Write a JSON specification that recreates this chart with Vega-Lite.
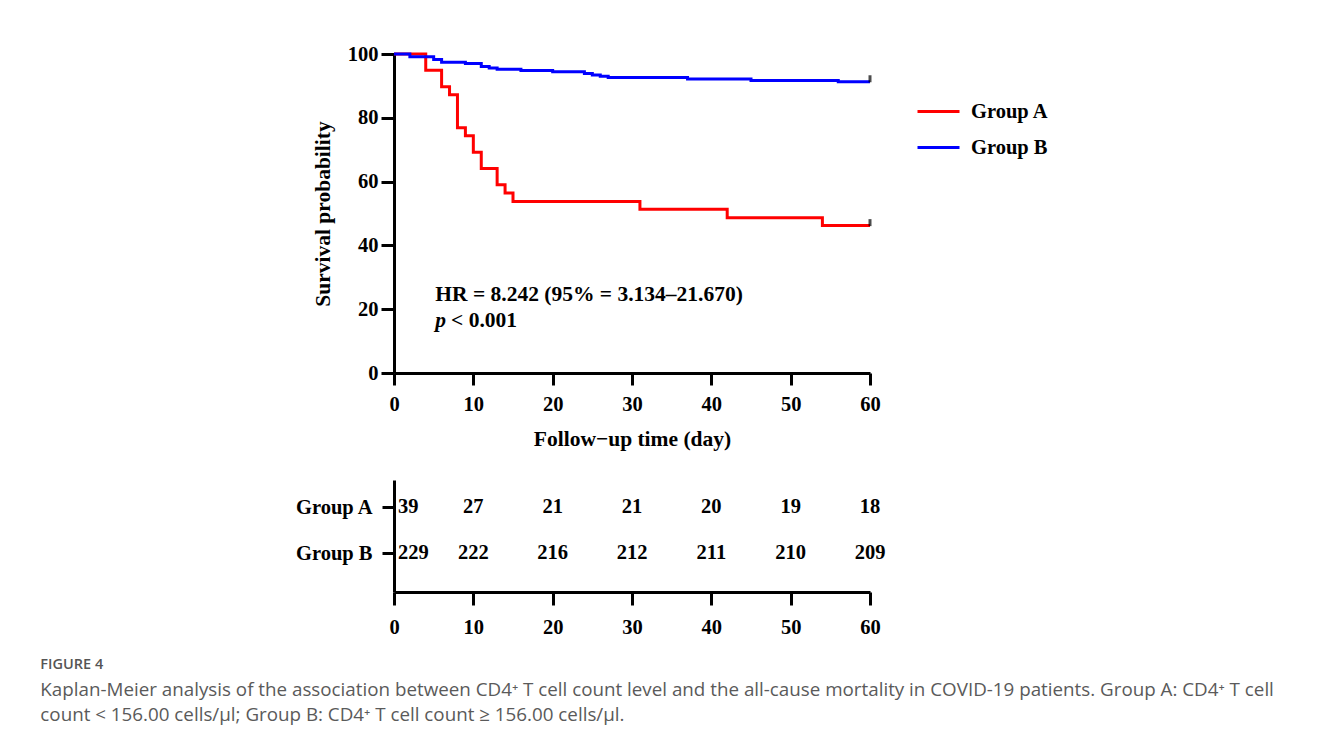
{
  "$schema": "https://vega.github.io/schema/vega-lite/v6.json",
  "background": "white",
  "padding": {"left": 40, "top": 44, "right": 10, "bottom": 10},
  "spacing": 30,
  "datasets": {
    "km": [
      {"group": "Group A", "day": 0, "surv": 100},
      {"group": "Group A", "day": 4, "surv": 94.9},
      {"group": "Group A", "day": 6, "surv": 89.7},
      {"group": "Group A", "day": 7, "surv": 87.2},
      {"group": "Group A", "day": 8, "surv": 76.9},
      {"group": "Group A", "day": 9, "surv": 74.4},
      {"group": "Group A", "day": 10, "surv": 69.2},
      {"group": "Group A", "day": 11, "surv": 64.1},
      {"group": "Group A", "day": 13, "surv": 59.0},
      {"group": "Group A", "day": 14, "surv": 56.4},
      {"group": "Group A", "day": 15, "surv": 53.8},
      {"group": "Group A", "day": 31, "surv": 51.3},
      {"group": "Group A", "day": 42, "surv": 48.7},
      {"group": "Group A", "day": 54, "surv": 46.2},
      {"group": "Group A", "day": 60, "surv": 46.2},
      {"group": "Group B", "day": 0, "surv": 100},
      {"group": "Group B", "day": 2, "surv": 99.1},
      {"group": "Group B", "day": 5, "surv": 98.3},
      {"group": "Group B", "day": 6, "surv": 97.4},
      {"group": "Group B", "day": 9, "surv": 97.0},
      {"group": "Group B", "day": 11, "surv": 96.1},
      {"group": "Group B", "day": 12, "surv": 95.6},
      {"group": "Group B", "day": 13, "surv": 95.2},
      {"group": "Group B", "day": 16, "surv": 94.8},
      {"group": "Group B", "day": 20, "surv": 94.4},
      {"group": "Group B", "day": 24, "surv": 93.9},
      {"group": "Group B", "day": 25, "surv": 93.4},
      {"group": "Group B", "day": 26, "surv": 93.0},
      {"group": "Group B", "day": 27, "surv": 92.6},
      {"group": "Group B", "day": 37, "surv": 92.2},
      {"group": "Group B", "day": 45, "surv": 91.7},
      {"group": "Group B", "day": 56, "surv": 91.3},
      {"group": "Group B", "day": 60, "surv": 91.3}
    ],
    "censor": [
      {"group": "Group A", "day": 60, "surv": 46.2},
      {"group": "Group B", "day": 60, "surv": 91.3}
    ],
    "notes": [
      {"day": 5.2, "surv": 24.5, "label": "HR = 8.242 (95% = 3.134–21.670)"},
      {"day": 7.2, "surv": 16.3, "label": "< 0.001"}
    ],
    "pnote": [
      {"day": 5.2, "surv": 16.3, "label": "p"}
    ],
    "risk": [
      {"group": "Group A", "day": 0, "n": 39},
      {"group": "Group A", "day": 10, "n": 27},
      {"group": "Group A", "day": 20, "n": 21},
      {"group": "Group A", "day": 30, "n": 21},
      {"group": "Group A", "day": 40, "n": 20},
      {"group": "Group A", "day": 50, "n": 19},
      {"group": "Group A", "day": 60, "n": 18},
      {"group": "Group B", "day": 0, "n": 229},
      {"group": "Group B", "day": 10, "n": 222},
      {"group": "Group B", "day": 20, "n": 216},
      {"group": "Group B", "day": 30, "n": 212},
      {"group": "Group B", "day": 40, "n": 211},
      {"group": "Group B", "day": 50, "n": 210},
      {"group": "Group B", "day": 60, "n": 209}
    ]
  },
  "title": {
    "text": "FIGURE 4",
    "subtitle": [
      "Kaplan-Meier analysis of the association between CD4⁺ T cell count level and the all-cause mortality in COVID-19 patients. Group A: CD4⁺ T cell",
      "count < 156.00 cells/µl; Group B: CD4⁺ T cell count ≥ 156.00 cells/µl."
    ],
    "orient": "bottom",
    "anchor": "start",
    "dx": -254,
    "offset": 20,
    "font": "Open Sans",
    "fontSize": 14.5,
    "fontWeight": 600,
    "color": "#555555",
    "subtitleFont": "Open Sans",
    "subtitleFontSize": 18.8,
    "subtitleFontWeight": "normal",
    "subtitleColor": "#5a5a5a",
    "subtitleLineHeight": 25,
    "subtitlePadding": 9
  },
  "config": {
    "view": {"stroke": null},
    "font": "Liberation Serif",
    "axis": {
      "grid": false,
      "domainColor": "black",
      "domainWidth": 3,
      "tickColor": "black",
      "tickWidth": 3,
      "tickSize": 12,
      "labelFont": "Liberation Serif",
      "labelFontWeight": "bold",
      "labelFontSize": 20.5,
      "labelColor": "black",
      "titleFont": "Liberation Serif",
      "titleFontWeight": "bold",
      "titleFontSize": 21.5,
      "titleColor": "black"
    },
    "legend": {
      "labelFont": "Liberation Serif",
      "labelFontWeight": "bold",
      "labelFontSize": 20.5,
      "labelColor": "black"
    }
  },
  "vconcat": [
    {
      "width": 476,
      "height": 319,
      "layer": [
        {
          "data": {"name": "km"},
          "mark": {"type": "line", "interpolate": "step-after", "strokeWidth": 3},
          "encoding": {
            "x": {
              "field": "day", "type": "quantitative",
              "scale": {"domain": [0, 60], "nice": false, "zero": true},
              "axis": {"values": [0, 10, 20, 30, 40, 50, 60], "title": "Follow−up time (day)", "labelPadding": 9, "titlePadding": 14, "labelFlush": false}
            },
            "y": {
              "field": "surv", "type": "quantitative",
              "scale": {"domain": [0, 100], "nice": false},
              "axis": {"values": [0, 20, 40, 60, 80, 100], "title": "Survival probability", "tickSize": 13, "labelPadding": 3, "titlePadding": 13, "labelFlush": false}
            },
            "color": {
              "field": "group", "type": "nominal",
              "scale": {"domain": ["Group A", "Group B"], "range": ["#ff0000", "#0000ff"]},
              "legend": {
                "title": null,
                "orient": "none",
                "legendX": 522,
                "legendY": 35,
                "symbolType": "stroke",
                "symbolSize": 1764,
                "symbolStrokeWidth": 3,
                "labelOffset": 10,
                "rowPadding": 3
              }
            }
          }
        },
        {
          "data": {"name": "censor"},
          "mark": {"type": "tick", "orient": "vertical", "color": "black", "thickness": 3, "size": 7, "yOffset": -3},
          "encoding": {
            "x": {"field": "day", "type": "quantitative"},
            "y": {"field": "surv", "type": "quantitative"}
          }
        },
        {
          "data": {"name": "notes"},
          "mark": {"type": "text", "align": "left", "baseline": "middle", "font": "Liberation Serif", "fontWeight": "bold", "fontSize": 21.5, "color": "black"},
          "encoding": {
            "x": {"field": "day", "type": "quantitative"},
            "y": {"field": "surv", "type": "quantitative"},
            "text": {"field": "label"}
          }
        },
        {
          "data": {"name": "pnote"},
          "mark": {"type": "text", "align": "left", "baseline": "middle", "font": "Liberation Serif", "fontWeight": "bold", "fontStyle": "italic", "fontSize": 21.5, "color": "black"},
          "encoding": {
            "x": {"field": "day", "type": "quantitative"},
            "y": {"field": "surv", "type": "quantitative"},
            "text": {"field": "label"}
          }
        }
      ]
    },
    {
      "width": 476,
      "height": 112,
      "data": {"name": "risk"},
      "encoding": {
        "x": {
          "field": "day", "type": "quantitative",
          "scale": {"domain": [0, 60], "nice": false},
          "axis": {"values": [0, 10, 20, 30, 40, 50, 60], "title": null, "tickSize": 13, "labelPadding": 12, "labelFlush": false}
        },
        "y": {
          "field": "group", "type": "nominal",
          "scale": {"type": "point", "domain": ["Group A", "Group B"], "padding": 0.717, "align": 0.41},
          "axis": {"title": null, "tickSize": 12, "labelPadding": 10}
        },
        "text": {"field": "n"}
      },
      "layer": [
        {
          "transform": [{"filter": "datum.day == 0"}],
          "mark": {"type": "text", "align": "left", "dx": 4, "baseline": "middle", "font": "Liberation Serif", "fontWeight": "bold", "fontSize": 20.5, "color": "black"}
        },
        {
          "transform": [{"filter": "datum.day > 0"}],
          "mark": {"type": "text", "align": "center", "baseline": "middle", "font": "Liberation Serif", "fontWeight": "bold", "fontSize": 20.5, "color": "black"}
        }
      ]
    }
  ]
}
